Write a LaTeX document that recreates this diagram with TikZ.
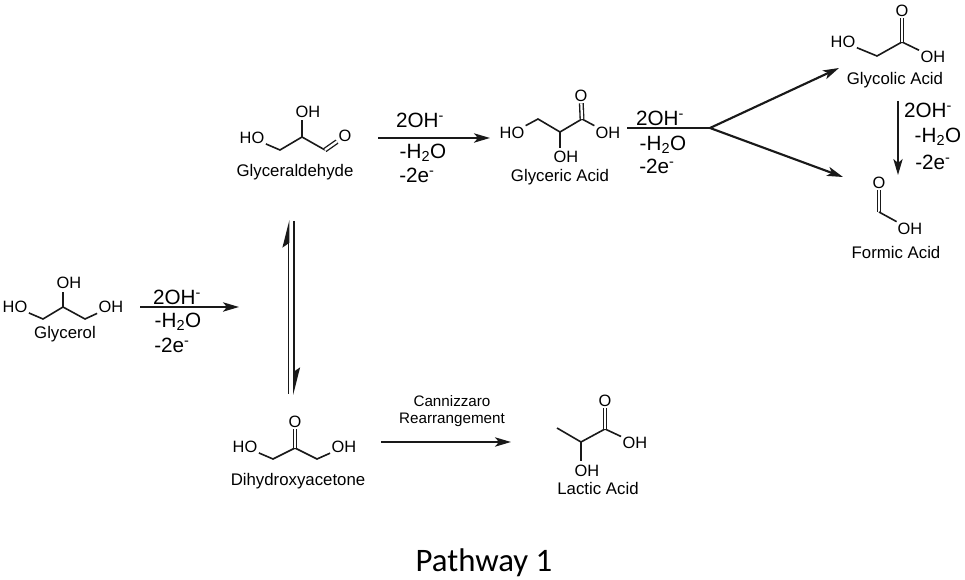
\documentclass[tikz,border=0pt]{standalone}
\usepackage{fontspec}
\setmainfont{Liberation Sans}
\newfontfamily\captionfont{Carlito}
\usetikzlibrary{arrows.meta}

\begin{document}
\begin{tikzpicture}[x=0.75pt,y=-0.75pt,
  bond/.style={line width=1.2pt,draw=black!90},
  dbond/.style={line width=1pt,draw=black!90,double,double distance=1.7pt},
  rxn/.style={line width=1.6pt,draw=black!90,-{Stealth[length=12pt,width=7pt,inset=3pt]}},
  eqm/.style={line width=1.3pt,draw=black!90,-{Stealth[harpoon,length=18pt,width=9pt,inset=3pt]}},
  atom/.style={inner sep=1pt,text=black,text height=8.6pt,text depth=0pt,font=\fontsize{12.3}{12}\selectfont},
  molname/.style={inner sep=0pt,text=black,text height=9pt,text depth=0pt,font=\fontsize{12.6}{14}\selectfont},
  cond/.style={inner sep=0pt,text=black,text height=11pt,text depth=0pt,font=\fontsize{15.5}{16}\selectfont},
  small/.style={inner sep=0pt,text=black,text height=8pt,text depth=0pt,font=\fontsize{11.4}{13}\selectfont}]

\useasboundingbox (0,0) rectangle (965,580);

% glycerol
\node[atom] (glHOa) at (15,307) {HO};
\node[atom] (glHOb) at (69,283) {OH};
\node[atom] (glHOc) at (111,307) {OH};
\coordinate (glCa) at (43,319);
\coordinate (glCb) at (63,307);
\coordinate (glCc) at (85,319);
\draw[bond] (glHOa) -- (glCa) -- (glCb) -- (glCc) -- (glHOc);
\draw[bond] (glCb) -- (63,292) coordinate (glTop);
\node[molname] (glName) at (65,333) {Glycerol};

\coordinate (rOneA) at (140,307);
\coordinate (rOneB) at (239,307);
\draw[rxn] (rOneA) -- (rOneB);
\node[cond] (rOneX) at (177,297) {2OH\textsuperscript{-}};
\node[cond] (rOneY) at (178,320) {-H\textsubscript{2}O};
\node[cond] (rOneZ) at (172,345) {-2e\textsuperscript{-}};

% glyceraldehyde
\node[atom] (gaHOa) at (252,138) {HO};
\node[atom] (gaHOb) at (308,112) {OH};
\node[atom] (gaO) at (345,136) {O};
\coordinate (gaCa) at (280,150);
\coordinate (gaCb) at (302,137);
\coordinate (gaCc) at (325,150);
\draw[bond] (gaHOa) -- (gaCa) -- (gaCb) -- (gaCc);
\draw[bond] (gaCb) -- (302,120) coordinate (gaTop);
\draw[dbond] (gaCc) -- (gaO);
\node[molname] (gaName) at (295,171) {Glyceraldehyde};

\coordinate (rTwoA) at (378,138);
\coordinate (rTwoB) at (490,138);
\draw[rxn] (rTwoA) -- (rTwoB);
\node[cond] (rTwoX) at (420,120) {2OH\textsuperscript{-}};
\node[cond] (rTwoY) at (423,151) {-H\textsubscript{2}O};
\node[cond] (rTwoZ) at (417,175) {-2e\textsuperscript{-}};

% equilibrium
\coordinate (eqA) at (288.5,394);
\coordinate (eqB) at (288.5,220);
\coordinate (eqC) at (294,221);
\coordinate (eqD) at (294,395);
\draw[eqm] (eqA) -- (eqB);
\draw[eqm] (eqC) -- (eqD);

% dihydroxyacetone
\node[atom] (dhO) at (295,422) {O};
\node[atom] (dhHOa) at (245,447) {HO};
\node[atom] (dhHOb) at (344,447) {OH};
\coordinate (dhCa) at (273,459);
\coordinate (dhCb) at (295,448);
\coordinate (dhCc) at (317,459);
\draw[bond] (dhHOa) -- (dhCa) -- (dhCb) -- (dhCc) -- (dhHOb);
\draw[dbond] (dhCb) -- (dhO);
\node[molname] (dhName) at (298,480) {Dihydroxyacetone};

\coordinate (rCaA) at (381,442);
\coordinate (rCaB) at (511,442);
\draw[rxn] (rCaA) -- (rCaB);
\node[small] (rCaX) at (452,401) {Cannizzaro};
\node[small] (rCaY) at (452,418) {Rearrangement};

% lactic acid
\node[atom] (laO) at (605,401) {O};
\node[atom] (laHOa) at (635,443) {OH};
\node[atom] (laHOb) at (587,471) {OH};
\coordinate (laCa) at (557,428);
\coordinate (laCb) at (581,442);
\coordinate (laCc) at (605,429);
\draw[bond] (laCa) -- (laCb) -- (laCc) -- (laHOa);
\draw[bond] (laCb) -- (581,461) coordinate (laLow);
\draw[dbond] (laCc) -- (laO);
\node[molname] (laName) at (598,489) {Lactic Acid};

% glyceric acid
\node[atom] (geHOa) at (512,133) {HO};
\node[atom] (geHOb) at (608,133) {OH};
\node[atom] (geHOc) at (566,157) {OH};
\node[atom] (geO) at (581,96) {O};
\coordinate (geCa) at (538,119);
\coordinate (geCb) at (560,132);
\coordinate (geCc) at (582,119);
\draw[bond] (geHOa) -- (geCa) -- (geCb) -- (geCc) -- (geHOb);
\draw[bond] (geCb) -- (560,148) coordinate (geLow);
\draw[dbond] (geCc) -- (geO);
\node[molname] (geName) at (560,176) {Glyceric Acid};

\coordinate (rBrA) at (627,128);
\coordinate (rBrB) at (710,128);
\coordinate (rBrC) at (839,68);
\coordinate (rBrD) at (843,177);
\draw[bond,line width=1.6pt] (rBrA) -- (rBrB);
\draw[rxn] (rBrB) -- (rBrC);
\draw[rxn] (rBrB) -- (rBrD);
\node[cond] (rBrX) at (660,118) {2OH\textsuperscript{-}};
\node[cond] (rBrY) at (663,143) {-H\textsubscript{2}O};
\node[cond] (rBrZ) at (657,166) {-2e\textsuperscript{-}};

% glycolic acid
\node[atom] (gcO) at (902,11) {O};
\node[atom] (gcHOa) at (843,42) {HO};
\node[atom] (gcHOb) at (933,57) {OH};
\coordinate (gcCa) at (877,56);
\coordinate (gcCb) at (902,42);
\draw[bond] (gcHOa) -- (gcCa) -- (gcCb) -- (gcHOb);
\draw[dbond] (gcCb) -- (gcO);
\node[molname] (gcName) at (895,79) {Glycolic Acid};

\coordinate (rLaA) at (898,101);
\coordinate (rLaB) at (898,175);
\draw[rxn,line width=1.2pt] (rLaA) -- (rLaB);
\node[cond] (rLaX) at (928,110) {2OH\textsuperscript{-}};
\node[cond] (rLaY) at (938,135) {-H\textsubscript{2}O};
\node[cond] (rLaZ) at (933,162) {-2e\textsuperscript{-}};

% formic acid
\node[atom] (foO) at (879,183) {O};
\node[atom] (foHO) at (910,229) {OH};
\coordinate (foC) at (879,212);
\draw[dbond] (foC) -- (foO);
\draw[bond] (foC) -- (foHO);
\node[molname] (foName) at (896,253) {Formic Acid};

\node[inner sep=0pt,text=black,font=\captionfont\fontsize{24.6}{26}\selectfont] (caption) at (484,563) {Pathway 1};

\end{tikzpicture}
\end{document}
